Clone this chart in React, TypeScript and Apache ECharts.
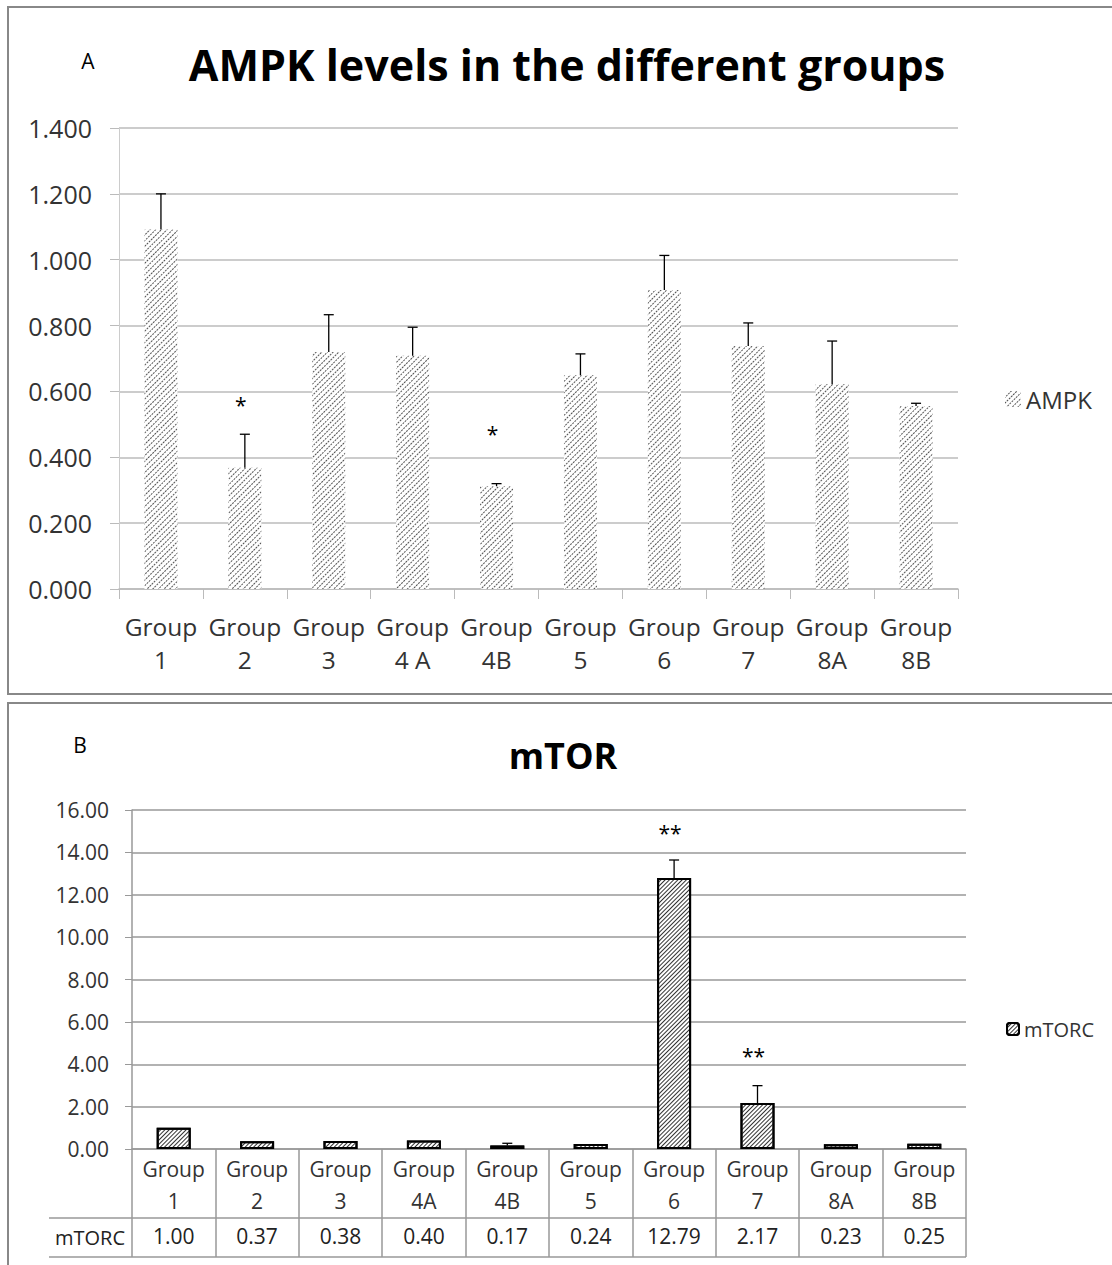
import React, { useEffect, useRef } from "react";
import * as echarts from "echarts";

const FONT = "'Open Sans', 'Noto Sans', sans-serif";

// Panel A – AMPK
const ampkCategories = ["Group\n1", "Group\n2", "Group\n3", "Group\n4 A", "Group\n4B", "Group\n5", "Group\n6", "Group\n7", "Group\n8A", "Group\n8B"];
const ampkValues = [1.092, 0.368, 0.72, 0.708, 0.312, 0.649, 0.908, 0.738, 0.622, 0.556];
const ampkErrorTop = [1.2, 0.47, 0.833, 0.795, 0.32, 0.714, 1.013, 0.808, 0.753, 0.564];
const ampkStars = ["", "*", "", "", "*", "", "", "", "", ""];
const ampkStarY = [0, 0.56, 0, 0, 0.47, 0, 0, 0, 0, 0];
const ampkTicks = { min: 0, max: 1.4, interval: 0.2 };

// Panel B – mTOR
const mtorCategories = ["Group\n1", "Group\n2", "Group\n3", "Group\n4A", "Group\n4B", "Group\n5", "Group\n6", "Group\n7", "Group\n8A", "Group\n8B"];
const mtorValues = [1.0, 0.37, 0.38, 0.4, 0.17, 0.24, 12.79, 2.17, 0.23, 0.25];
const mtorErrorTop = [1.0, 0.37, 0.38, 0.4, 0.27, 0.24, 13.64, 2.99, 0.23, 0.25];
const mtorStars = ["", "", "", "", "", "", "**", "**", "", ""];
const mtorStarY = [0, 0, 0, 0, 0, 0, 14.9, 4.4, 0, 0];
const mtorTicks = { min: 0, max: 16, interval: 2 };

function errorSeries(values: number[], tops: number[], xi: number, yi: number) {
  const data = values
    .map((v, i) => [i, v, tops[i]])
    .filter((d) => d[2] > d[1]);
  return {
    type: "custom",
    xAxisIndex: xi,
    yAxisIndex: yi,
    z: 10,
    silent: true,
    data,
    renderItem: (params: any, api: any) => {
      const i = api.value(0);
      const p0 = api.coord([i, api.value(1)]);
      const p1 = api.coord([i, api.value(2)]);
      const st = { stroke: "#000", lineWidth: 1.3 };
      return {
        type: "group",
        children: [
          { type: "line", shape: { x1: p0[0], y1: p0[1], x2: p1[0], y2: p1[1] }, style: st },
          { type: "line", shape: { x1: p1[0] - 5, y1: p1[1], x2: p1[0] + 5, y2: p1[1] }, style: st },
        ],
      };
    },
  };
}

function starSeries(stars: string[], ys: number[], xi: number, yi: number) {
  const data = stars
    .map((s, i) => ({ s, v: [i, ys[i]] }))
    .filter((d) => d.s !== "");
  return {
    type: "custom",
    xAxisIndex: xi,
    yAxisIndex: yi,
    z: 11,
    silent: true,
    data: data.map((d) => d.v),
    renderItem: (params: any, api: any) => {
      const p = api.coord([api.value(0), api.value(1)]);
      return {
        type: "text",
        x: p[0] - 4,
        y: p[1],
        style: {
          text: data[params.dataIndex].s,
          fill: "#000",
          font: `21px ${FONT}`,
          align: "center",
          verticalAlign: "middle",
        },
      };
    },
  };
}

export default function App() {
  const ref = useRef<HTMLDivElement>(null);
  useEffect(() => {
    document.body.style.margin = "0";
    const chart = echarts.init(ref.current!, null, { renderer: "svg" });
    const decalA = {
      symbol: "rect",
      symbolSize: 1,
      dashArrayX: [2, 1],
      dashArrayY: [1, 3],
      rotation: -Math.PI / 4,
      color: "#555",
      backgroundColor: "#fff",
    };
    const decalB = {
      symbol: "rect",
      symbolSize: 1,
      dashArrayX: [1, 0],
      dashArrayY: [1, 2],
      rotation: -Math.PI / 4,
      color: "#333",
      backgroundColor: "#fff",
    };
    chart.setOption({
      animation: false,
      backgroundColor: "#fff",
      textStyle: { fontFamily: FONT },
      grid: [
        { left: 119, right: 154, top: 128, height: 461 },
        { left: 132, right: 146, top: 810, height: 339 },
      ],
      legend: [
        {
          data: ["AMPK"],
          left: 1000,
          top: 382,
          itemWidth: 16,
          itemHeight: 16,
          itemGap: 6,
          textStyle: { fontSize: 24, color: "#333", fontFamily: FONT },
        },
        {
          data: ["mTORC"],
          left: 1001,
          top: 1014,
          itemWidth: 12,
          itemHeight: 12,
          itemGap: 4,
          textStyle: { fontSize: 20, color: "#333", fontFamily: FONT },
        },
      ],
      xAxis: [
        {
          type: "category",
          gridIndex: 0,
          data: ampkCategories,
          axisLine: { lineStyle: { color: "#bbb", width: 1.5 } },
          axisTick: { show: true, length: 10, lineStyle: { color: "#bbb" } },
          axisLabel: { interval: 0, fontSize: 24.5, color: "#333", lineHeight: 33, margin: 21, fontFamily: FONT },
        },
        {
          type: "category",
          gridIndex: 1,
          data: mtorCategories,
          axisLine: { lineStyle: { color: "#999", width: 1.5 } },
          axisTick: { show: true, length: 108, lineStyle: { color: "#999", width: 1.5 } },
          axisLabel: { interval: 0, fontSize: 21, color: "#333", lineHeight: 32, margin: 4, fontFamily: FONT },
        },
        {
          type: "category",
          gridIndex: 1,
          position: "bottom",
          data: mtorValues.map((v) => v.toFixed(2)),
          axisLine: { show: false },
          axisTick: { show: false },
          axisLabel: { interval: 0, fontSize: 21, color: "#222", margin: 76, fontFamily: FONT },
        },
      ],
      yAxis: [
        {
          type: "value",
          gridIndex: 0,
          ...ampkTicks,
          axisLine: { show: true, lineStyle: { color: "#ccc" } },
          axisTick: { show: true, length: 9, lineStyle: { color: "#bbb" } },
          splitLine: { lineStyle: { color: "#bbb", width: 1.5 } },
          axisLabel: { fontSize: 25, color: "#333", margin: 27, formatter: (v: number) => v.toFixed(3), fontFamily: FONT },
        },
        {
          type: "value",
          gridIndex: 1,
          ...mtorTicks,
          axisLine: { show: true, lineStyle: { color: "#999", width: 1.5 } },
          axisTick: { show: true, length: 7, lineStyle: { color: "#999" } },
          splitLine: { lineStyle: { color: "#999", width: 1.5 } },
          axisLabel: { fontSize: 21, color: "#333", margin: 23, formatter: (v: number) => v.toFixed(2), fontFamily: FONT },
        },
      ],
      series: [
        {
          name: "AMPK",
          type: "bar",
          xAxisIndex: 0,
          yAxisIndex: 0,
          barWidth: 33,
          data: ampkValues,
          itemStyle: { color: "#fff", decal: decalA },
        },
        errorSeries(ampkValues, ampkErrorTop, 0, 0),
        starSeries(ampkStars, ampkStarY, 0, 0),
        {
          name: "mTORC",
          type: "bar",
          xAxisIndex: 1,
          yAxisIndex: 1,
          barWidth: 34,
          data: mtorValues,
          itemStyle: { color: "#fff", decal: decalB, borderColor: "#000", borderWidth: 2 },
        },
        errorSeries(mtorValues, mtorErrorTop, 1, 1),
        starSeries(mtorStars, mtorStarY, 1, 1),
      ],
      graphic: [
        { type: "rect", shape: { x: 8, y: 7, width: 1120, height: 687 }, style: { fill: "none", stroke: "#888", lineWidth: 2 }, z: -1 },
        { type: "rect", shape: { x: 8, y: 703, width: 1120, height: 580 }, style: { fill: "none", stroke: "#888", lineWidth: 2 }, z: -1 },
        { type: "text", x: 88, y: 61, style: { text: "A", font: `21px ${FONT}`, fill: "#000", align: "center", verticalAlign: "middle" } },
        { type: "text", x: 567, y: 64, style: { text: "AMPK levels in the different groups", font: `bold 43px ${FONT}`, fill: "#000", align: "center", verticalAlign: "middle" } },
        { type: "text", x: 80, y: 745, style: { text: "B", font: `21px ${FONT}`, fill: "#000", align: "center", verticalAlign: "middle" } },
        { type: "text", x: 563, y: 755, style: { text: "mTOR", font: `bold 36px ${FONT}`, fill: "#000", align: "center", verticalAlign: "middle" } },
        { type: "line", shape: { x1: 49, y1: 1218, x2: 966, y2: 1218 }, style: { stroke: "#999", lineWidth: 1.5 } },
        { type: "line", shape: { x1: 49, y1: 1257, x2: 966, y2: 1257 }, style: { stroke: "#999", lineWidth: 1.5 } },
        { type: "text", x: 90, y: 1237, style: { text: "mTORC", font: `20px ${FONT}`, fill: "#222", align: "center", verticalAlign: "middle" } },
      ],
    });
    return () => chart.dispose();
  }, []);
  return <div ref={ref} style={{ width: 1112, height: 1265 }} />;
}
